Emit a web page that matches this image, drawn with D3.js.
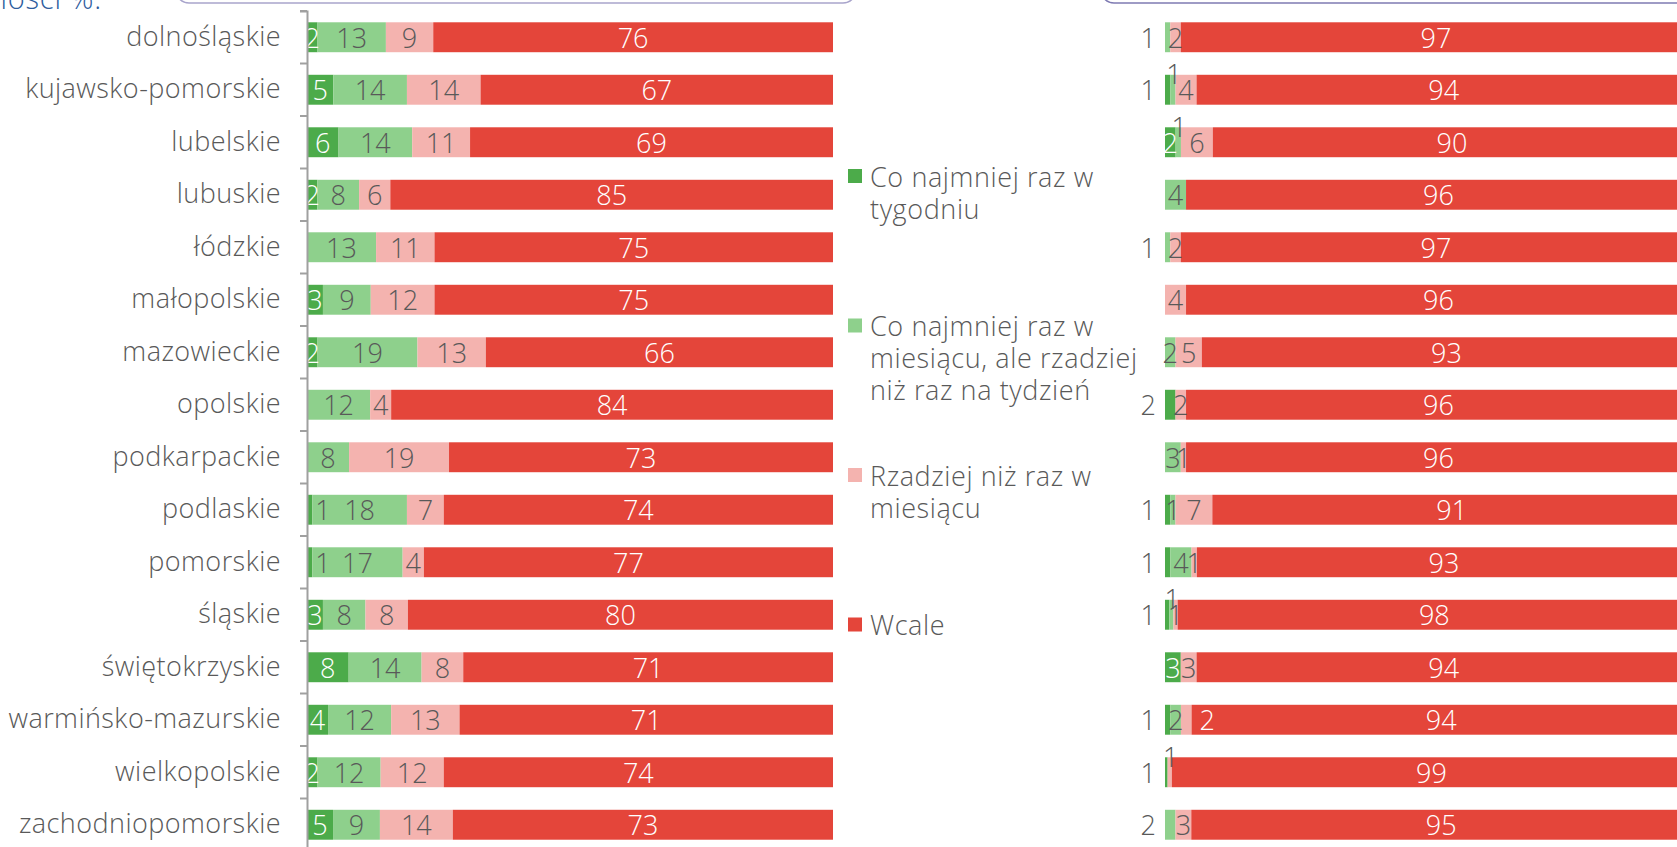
<!DOCTYPE html>
<html><head><meta charset="utf-8">
<script src="https://cdn.jsdelivr.net/npm/d3@7"></script>
<style>
html,body{margin:0;padding:0;background:#fff;overflow:hidden}
svg{display:block}
text{font-family:"Open Sans",sans-serif;font-weight:300}
</style></head><body>
<svg id="chart" width="1677" height="847"></svg>
<script>
const categories = ["dolnośląskie","kujawsko-pomorskie","lubelskie","lubuskie","łódzkie","małopolskie","mazowieckie","opolskie","podkarpackie","podlaskie","pomorskie","śląskie","świętokrzyskie","warmińsko-mazurskie","wielkopolskie","zachodniopomorskie"];
const seriesNames = ["Co najmniej raz w tygodniu","Co najmniej raz w miesiącu, ale rzadziej niż raz na tydzień","Rzadziej niż raz w miesiącu","Wcale"];
const legendLines = [["Co najmniej raz w","tygodniu"],["Co najmniej raz w","miesiącu, ale rzadziej","niż raz na tydzień"],["Rzadziej niż raz w","miesiącu"],["Wcale"]];

// left panel values (%)
const leftWeekly  = [2,5,6,2,0,3,2,0,0,1,1,3,8,4,2,5];
const leftMonthly = [13,14,14,8,13,9,19,12,8,18,17,8,14,12,12,9];
const leftRarely  = [9,14,11,6,11,12,13,4,19,7,4,8,8,13,12,14];
const leftNever   = [76,67,69,85,75,75,66,84,73,74,77,80,71,71,74,73];

// right panel values (%)
const rightWeekly  = [0,1,2,0,0,0,0,2,0,1,1,0.8,3,1,0.5,0];
const rightMonthly = [1,1,1,4,1,0,2,0,3,1,4,0.8,0,2,0,2];
const rightRarely  = [2,4,6,0,2,4,5,2,1,7,1,0.8,3,2,0.8,3];
const rightNever   = [97,94,90,96,97,96,93,96,96,91,93,97.6,94,94,98.7,95];

// data label placement codes: c centre, l left of bar, u above, r after segment, - none
const leftLabelPlacement  = ["cccc","cccc","cccc","cccc","-ccc","cccc","cccc","-ccc","-ccc","rccc","rccc","cccc","cccc","cccc","cccc","cccc"];
const rightLabelPlacement = ["-lcc","lucc","cucc","-c-c","-lcc","--cc","-ccc","l-cc","-ccc","lccc","lccc","lucc","c-cc","lcrc","l-uc","-lcc"];

const colors = ["#4CAB4A","#8ED08C","#F4B3AF","#E4453A"];
const labelColors = ["#ffffff","#595959","#595959","#ffffff"];
const FONT = '"Open Sans",sans-serif';

const svg = d3.select("#chart");

// header remnants (boxes cut by the top edge)
svg.append("text").attr("x",102).attr("y",9).attr("text-anchor","end")
  .attr("fill","#2E5D9E").attr("font-size",29).attr("letter-spacing",0.8).text("aktywności %.");
svg.append("rect").attr("x",176).attr("y",-60).attr("width",680).attr("height",63)
  .attr("rx",13).attr("fill","none").attr("stroke","#A9A5CC").attr("stroke-width",1.5);
svg.append("rect").attr("x",1101).attr("y",-60).attr("width",620).attr("height",63)
  .attr("rx",13).attr("fill","none").attr("stroke","#7F7BB3").attr("stroke-width",1.5);

const y = d3.scaleBand().domain(categories).range([11, 851]).paddingInner(0.43).paddingOuter(0.215);
const xLeft = d3.scaleLinear().domain([0,100]).range([307, 833]);
const xRight = d3.scaleLinear().domain([0,100]).range([1165, 1691]);

function panel(x, series, placement) {
  const gBars = svg.append("g");
  const gLabels = svg.append("g");
  categories.forEach((cat, i) => {
    const total = d3.sum(series, arr => arr[i]);
    let acc = 0;
    const y0 = y(cat), bh = y.bandwidth(), cy = y0 + bh/2;
    series.forEach((arr, s) => {
      const v = arr[i];
      const xs = x(acc / total * 100), xe = x((acc + v) / total * 100);
      acc += v;
      if (v <= 0) return;
      gBars.append("rect").attr("x", xs).attr("y", y0).attr("width", xe - xs).attr("height", bh)
        .attr("fill", colors[s]);
      const code = placement[i][s];
      if (code === "-") return;
      const lbl = gLabels.append("text").attr("font-size", 27).attr("dominant-baseline","central")
        .text(Math.round(v));
      if (code === "c") {
        lbl.attr("x", (xs+xe)/2).attr("y", cy).attr("text-anchor","middle").attr("fill", labelColors[s]);
      } else if (code === "l") {
        lbl.attr("x", x(0) - 9).attr("y", cy).attr("text-anchor","end").attr("fill", "#595959");
      } else if (code === "u") {
        lbl.attr("x", (xs+xe)/2 + 1).attr("y", y0 - 1).attr("text-anchor","middle").attr("fill", "#595959");
      } else if (code === "r") {
        const onRed = s === 2;
        lbl.attr("x", xe + (onRed ? 8 : 3)).attr("y", cy).attr("text-anchor","start")
          .attr("fill", onRed ? "#ffffff" : "#595959");
      }
    });
  });
}

panel(xLeft, [leftWeekly, leftMonthly, leftRarely, leftNever], leftLabelPlacement);
panel(xRight, [rightWeekly, rightMonthly, rightRarely, rightNever], rightLabelPlacement);

// category axis (left panel)
const axis = svg.append("g").attr("transform", `translate(${xLeft(0)},0)`)
  .call(d3.axisLeft(y).tickSizeInner(0).tickSizeOuter(7).tickPadding(26));
axis.select(".domain").attr("stroke","#A0A0A0").attr("stroke-width",2);
axis.selectAll(".tick text").attr("font-size",27).attr("fill","#595959")
  .attr("letter-spacing",0.45)
  .style("font-family",FONT).style("font-weight",300);
const gap = (y.step() - y.bandwidth())/2;
axis.selectAll(".bound").data(categories).enter().append("line").attr("class","bound")
  .attr("x1",-7).attr("x2",0)
  .attr("y1", d => y(d) - gap).attr("y2", d => y(d) - gap)
  .attr("stroke","#A0A0A0").attr("stroke-width",2);

// legend
const legend = svg.append("g");
legendLines.forEach((lines, s) => {
  const top = 176 + s * 149.5;
  legend.append("rect").attr("x",848).attr("y",top - 7).attr("width",14).attr("height",14).attr("fill",colors[s]);
  lines.forEach((ln, k) => {
    legend.append("text").attr("x",870).attr("y",top + k*32).attr("dominant-baseline","central")
      .attr("font-size",27).attr("letter-spacing",0.6).attr("fill","#595959").text(ln);
  });
});
</script>
</body></html>
